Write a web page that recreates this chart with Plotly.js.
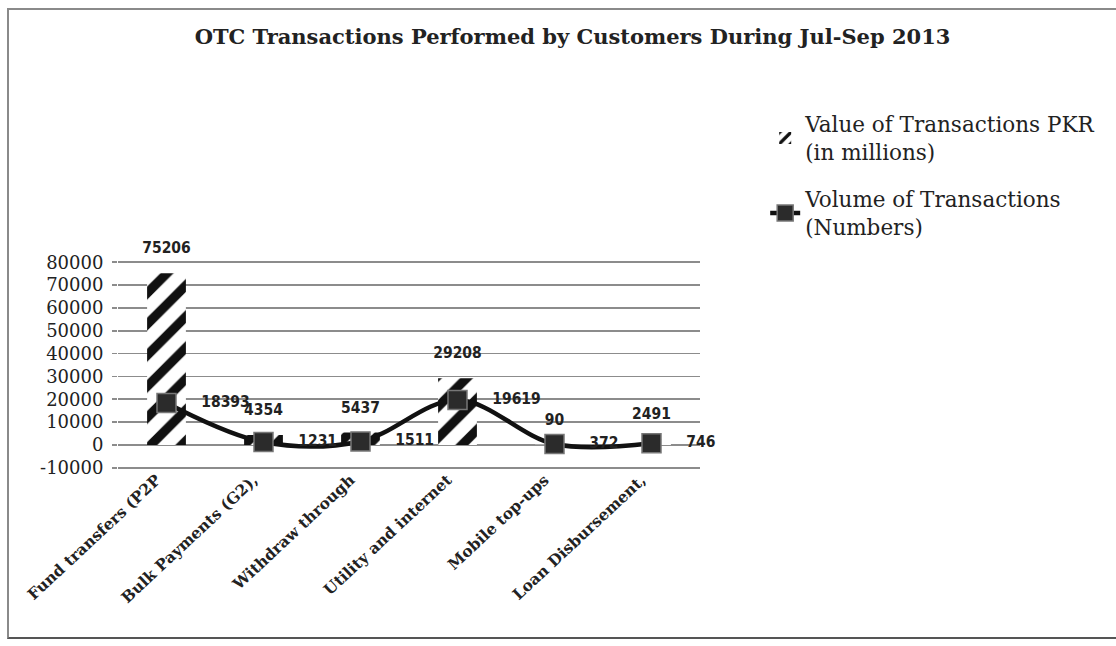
<!DOCTYPE html>
<html>
<head>
<meta charset="utf-8">
<script src="https://cdn.plot.ly/plotly-3.0.1.min.js"></script>
<style>
  html, body { margin: 0; padding: 0; background: #fff; }
  #wrap { position: relative; width: 1116px; height: 646px; overflow: hidden; }
  #chart { position: absolute; left: 0; top: 0; width: 1116px; height: 646px; }
  #frame { position: absolute; left: 7px; top: 8px; width: 1120px; height: 627px;
           border-top: 2px solid #8a8a8a; border-left: 2px solid #8a8a8a; border-bottom: 2px solid #555;
           pointer-events: none; }
</style>
</head>
<body>
<div id="wrap">
  <div id="chart"></div>
  <div id="frame"></div>
</div>
<script>
// ---- data ----
var categories = ["Fund transfers (P2P", "Bulk Payments (G2),", "Withdraw through",
                  "Utility and internet", "Mobile top-ups", "Loan Disbursement,"];
var valueOfTransactions = [75206, 4354, 5437, 29208, 90, 2491];
var volumeOfTransactions = [18393, 1231, 1511, 19619, 372, 746];
var yTicks = [-10000, 0, 10000, 20000, 30000, 40000, 50000, 60000, 70000, 80000];
var valueName = "Value of Transactions PKR<br>(in millions)";
var volumeName = "Volume of Transactions<br>(Numbers)";
var titleText = "OTC Transactions Performed by Customers During Jul-Sep 2013";

var labelFont = { family: "Liberation Sans Narrow, Arial Narrow, DejaVu Sans Condensed, sans-serif",
                  size: 15.5, color: "#222", weight: "bold" };

var traces = [
  {
    type: "bar",
    name: valueName,
    x: categories,
    y: valueOfTransactions,
    marker: {
      color: "#ffffff",
      line: { width: 0 },
      pattern: { shape: "/", fgcolor: "#111111", bgcolor: "#ffffff", size: 22, solidity: 0.42 }
    },
    legendgroup: "a",
    hoverinfo: "x+y"
  },
  {
    type: "scatter",
    mode: "lines+markers",
    name: volumeName,
    x: categories,
    y: volumeOfTransactions,
    line: { color: "#111111", width: 4.5, shape: "spline", smoothing: 1 },
    marker: { symbol: "square", size: 19, color: "#2b2b2b", line: { color: "#777777", width: 1.5 } },
    legendgroup: "b",
    cliponaxis: false
  },
  {
    type: "scatter",
    mode: "markers+text",
    x: categories,
    y: valueOfTransactions,
    text: valueOfTransactions.map(String),
    textposition: "top center",
    textfont: labelFont,
    marker: { size: 24, opacity: 0 },
    showlegend: false,
    hoverinfo: "skip",
    cliponaxis: false
  },
  {
    type: "scatter",
    mode: "markers+text",
    x: categories,
    y: volumeOfTransactions,
    text: volumeOfTransactions.map(String),
    textposition: "middle right",
    textfont: labelFont,
    marker: { size: 54, opacity: 0 },
    showlegend: false,
    hoverinfo: "skip",
    cliponaxis: false
  }
];

var layout = {
  width: 1116,
  height: 646,
  paper_bgcolor: "rgba(0,0,0,0)",
  plot_bgcolor: "rgba(0,0,0,0)",
  margin: { l: 118, r: 416, t: 260, b: 176 },
  title: {
    text: titleText,
    font: { family: "DejaVu Serif, serif", size: 21, color: "#222", weight: "bold" },
    x: 0.513, xanchor: "center", xref: "container",
    y: 0.943, yanchor: "middle", yref: "container"
  },
  bargap: 0.6,
  showlegend: true,
  legend: {
    x: 1.112, xanchor: "left",
    y: 1.745, yanchor: "top",
    font: { family: "DejaVu Serif, serif", size: 21.5, color: "#222" },
    bgcolor: "rgba(0,0,0,0)",
    tracegroupgap: 16,
    traceorder: "grouped",
    itemwidth: 30
  },
  xaxis: {
    type: "category",
    range: [-0.5, 5.5],
    autorange: false,
    tickangle: -43,
    tickfont: { family: "DejaVu Serif, serif", size: 15.5, color: "#222", weight: "bold" },
    ticklabelshift: -10,
    ticklabelstandoff: -3,
    showgrid: false,
    showline: false,
    ticks: "",
    zeroline: false,
    fixedrange: true
  },
  yaxis: {
    range: [-11000, 81000],
    autorange: false,
    tickvals: yTicks,
    ticktext: yTicks.map(String),
    tickfont: { family: "DejaVu Serif, serif", size: 18, color: "#222" },
    ticklabelstandoff: 5,
    showgrid: true,
    gridcolor: "#8c8c8c",
    gridwidth: 1.6,
    zeroline: false,
    showline: false,
    ticks: "outside",
    ticklen: 5,
    tickcolor: "#8c8c8c",
    tickwidth: 1.6,
    fixedrange: true
  },
  hovermode: false
};

Plotly.newPlot("chart", traces, layout, { displayModeBar: false, staticPlot: true });
</script>
</body>
</html>
